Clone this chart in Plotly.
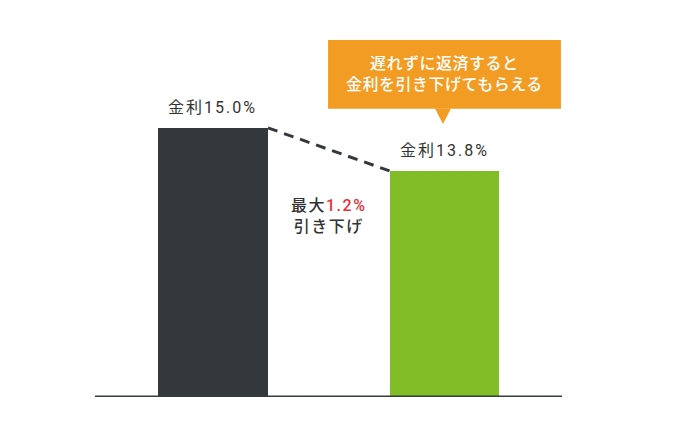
import plotly.graph_objects as go

categories = ["現在", "引き下げ後"]
rates = [15.0, 13.8]
bar_colors = ["#32383c", "#80bd27"]
rate_labels = ["金利15.0%", "金利13.8%"]
diff_label = "最大<span style='color:#e5323a'>1.2%</span><br>引き下げ"
callout_text = "遅れずに返済すると<br>金利を引き下げてもらえる"

FONT = "Roboto, Noto Sans CJK JP"
bar_w = 0.475
y0, y1 = 7.49, 18.01


def spaced(t, ls):
    return f"<span style='letter-spacing:{ls}px'>{t}</span>"


xs = [0, 1]
fig = go.Figure()
fig.add_trace(go.Bar(x=xs, y=rates, width=bar_w, marker=dict(color=bar_colors, line=dict(width=0)),
                     hoverinfo="skip", showlegend=False))
# dashed connector between bar tops
fig.add_trace(go.Scatter(x=[xs[0] + bar_w / 2, xs[1] - bar_w / 2], y=[rates[0], rates[1]],
                         mode="lines", line=dict(color="#32383c", width=3, dash="10px,7px"),
                         hoverinfo="skip", showlegend=False))

annotations = []
for x, v, t in zip(xs, rates, rate_labels):
    annotations.append(dict(x=x, y=v, text=spaced(t, 2), showarrow=False, yanchor="bottom", yshift=9,
                            font=dict(family=FONT, size=16, color="#333333", weight=400)))
annotations.append(dict(x=0.5, y=(rates[0] + rates[1]) / 2 - 1.86, text=spaced(diff_label, 1.5), showarrow=False,
                        font=dict(family=FONT, size=16, color="#333333", weight=500), align="center"))
annotations.append(dict(x=1.0, y=16.49, text=spaced(callout_text, 0.5), showarrow=False,
                        font=dict(family=FONT, size=16, color="white", weight=500), align="center"))

shapes = [
    dict(type="rect", xref="x", yref="y", x0=0.497, x1=1.503, y0=15.53, y1=17.45,
         fillcolor="#f39c24", line=dict(width=0), layer="above"),
    dict(type="path", xref="x", yref="y", path="M 0.959 15.54 L 1.028 15.54 L 0.9935 15.11 Z",
         fillcolor="#f39c24", line=dict(width=0), layer="above"),
    dict(type="line", xref="paper", yref="y", x0=0, x1=1, y0=y0, y1=y0,
         line=dict(color="#363b40", width=3), layer="above"),
]

fig.update_layout(
    width=700, height=437,
    margin=dict(l=87, r=146, t=12, b=48),
    paper_bgcolor="white", plot_bgcolor="white",
    xaxis=dict(range=[-0.5097, 1.5076], showticklabels=False, showgrid=False, zeroline=False, fixedrange=True),
    yaxis=dict(range=[y0, y1], showticklabels=False, showgrid=False, zeroline=False, fixedrange=True),
    annotations=annotations, shapes=shapes, bargap=0,
)
fig.write_html("out.html", config={"displayModeBar": False})
